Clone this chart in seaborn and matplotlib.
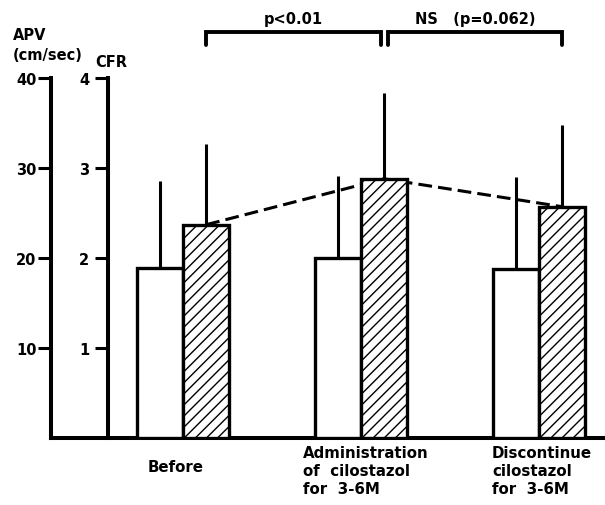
import numpy as np
import pandas as pd
import matplotlib
matplotlib.use("Agg")
import matplotlib.pyplot as plt
import matplotlib.transforms as mtransforms
import seaborn as sns

# data
phases = ["Before", "Administration\nof  cilostazol\nfor  3-6M", "Discontinue\ncilostazol\nfor  3-6M"]
apv_mean = [18.9, 20.0, 18.8]      # white bars, cm/sec
apv_sd = [9.7, 9.1, 10.2]
cfr_mean = [2.37, 2.88, 2.57]      # hatched bars
cfr_sd = [0.90, 0.95, 0.91]
apv_ticks = [10, 20, 30, 40]
cfr_ticks = [1, 2, 3, 4]
comparisons = ["p<0.01", "NS   (p=0.062)"]

sns.set_style("ticks", {"axes.edgecolor": "black", "xtick.color": "black",
                        "ytick.color": "black", "text.color": "black",
                        "axes.labelcolor": "black"})
plt.rcParams["font.family"] = ["DejaVu Sans"]
plt.rcParams["font.weight"] = "bold"
plt.rcParams["hatch.linewidth"] = 1.0

bar_w = 0.26
grp = np.arange(len(phases))
df = pd.DataFrame({
    "x_apv": grp - bar_w / 2,
    "x_cfr": grp + bar_w / 2,
    "apv": apv_mean,
    "cfr": cfr_mean,
})

fig = plt.figure(figsize=(6.05, 5.06), dpi=100)
ax = fig.add_axes([51 / 605, 67 / 506, 554 / 605, 360 / 506])
ax2 = ax.twinx()

lw_spine = 2.9
lw_bar = 2.4

# APV bars (white)
sns.barplot(data=df, x="x_apv", y="apv", native_scale=True, width=bar_w,
            color="white", edgecolor="black", linewidth=lw_bar, ax=ax,
            errorbar=None, zorder=3)
ax.errorbar(df["x_apv"], df["apv"], yerr=[np.zeros(3), apv_sd], fmt="none",
            ecolor="black", elinewidth=2.2, capsize=0, zorder=2)

# CFR bars (hatched) + dashed trend line
sns.lineplot(data=df, x="x_cfr", y="cfr", color="black", linewidth=2.2,
             linestyle=(0, (4.5, 2)), ax=ax2, zorder=1)
sns.barplot(data=df, x="x_cfr", y="cfr", native_scale=True, width=bar_w,
            color="white", edgecolor="black", linewidth=lw_bar, hatch="///",
            ax=ax2, errorbar=None, zorder=3)
ax2.errorbar(df["x_cfr"], df["cfr"], yerr=[np.zeros(3), cfr_sd], fmt="none",
             ecolor="black", elinewidth=2.2, capsize=0, zorder=2)

xlim = (-0.742, 2.371)
for a in (ax, ax2):
    a.set_xlim(*xlim)
    a.set_xlabel("")
    a.set_ylabel("")
    a.set_xticks([])
    a.spines["top"].set_visible(False)
    a.spines["right"].set_visible(False)

ax.set_ylim(0, 40)
ax.set_yticks(apv_ticks)
ax.spines["left"].set_linewidth(lw_spine)
ax.spines["bottom"].set_linewidth(lw_spine)
ax.tick_params(axis="y", length=9.5, width=2.2, labelsize=10.5, pad=1)

ax2.set_ylim(0, 4)
ax2.set_yticks(cfr_ticks)
ax2.spines["bottom"].set_visible(False)
ax2.spines["left"].set_visible(True)
ax2.spines["left"].set_position(("axes", 57 / 554))
ax2.spines["left"].set_linewidth(lw_spine)
ax2.yaxis.set_ticks_position("left")
ax2.tick_params(axis="y", length=9.5, width=2.2, labelsize=10.5, pad=4)

# axis titles
fig.text(13 / 605, 1 - 36 / 506, "APV", fontsize=10.5, fontweight="bold", va="center")
fig.text(13 / 605, 1 - 56 / 506, "(cm/sec)", fontsize=10.5, fontweight="bold", va="center")
fig.text(95 / 605, 1 - 63 / 506, "CFR", fontsize=10.5, fontweight="bold", va="center")

# group labels, left-aligned below each pair
trans = mtransforms.blended_transform_factory(ax.transData, fig.transFigure)
label_x = [-0.197, 0.674, 1.736]
label_y = [468, 446, 446]
for lx, ly, txt in zip(label_x, label_y, phases):
    ax.text(lx, 1 - ly / 506, txt, transform=trans, fontsize=10.8,
            fontweight="bold", ha="left",
            va="top" if "\n" in txt else "center", linespacing=1.25)

# significance brackets
brackets = [(0.13, 1.11), (1.15, 2.13)]
for (x0, x1), txt in zip(brackets, comparisons):
    ax.plot([x0, x0, x1, x1], [43.7, 45.1, 45.1, 43.7], color="black",
            linewidth=2.8, clip_on=False, solid_joinstyle="miter")
    ax.text((x0 + x1) / 2, 46.6, txt, fontsize=10.5, fontweight="bold",
            ha="center", va="center")

fig.savefig("out.png", dpi=100)
